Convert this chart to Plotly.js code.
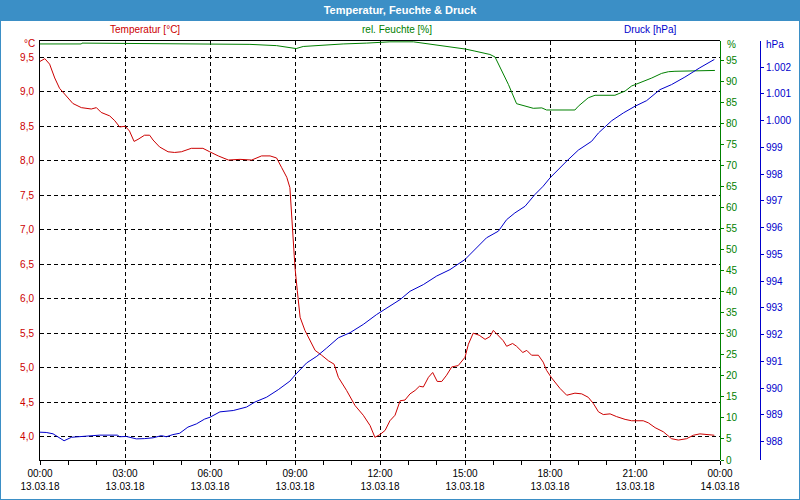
<!DOCTYPE html>
<html><head><meta charset="utf-8">
<script src="https://cdn.plot.ly/plotly-3.0.1.min.js"></script>
<style>html,body{margin:0;padding:0;background:#fff}#c{width:800px;height:500px}</style>
</head><body><div id="c"></div>
<script>
// hours after 13.03.18 00:00
const tempHours = [0,0.17,0.34,0.52,0.69,0.87,1.16,1.46,1.81,1.99,2.16,2.46,2.64,2.81,3.01,3.16,3.32,3.46,3.69,3.87,3.99,4.22,4.52,4.75,4.99,5.34,5.75,5.99,6.29,6.65,7.06,7.47,7.82,8.12,8.35,8.53,8.71,8.82,8.88,8.94,9.0,9.08,9.18,9.35,9.53,9.71,9.94,10.18,10.38,10.53,10.82,11.12,11.41,11.65,11.82,12.0,12.18,12.35,12.53,12.71,12.88,13.06,13.24,13.39,13.53,13.71,13.86,14.02,14.18,14.35,14.53,14.76,15.0,15.12,15.29,15.5,15.71,15.88,16.0,16.18,16.35,16.47,16.68,16.82,17.04,17.18,17.35,17.59,17.76,17.88,18.06,18.35,18.59,18.88,19.12,19.35,19.53,19.71,19.88,20.12,20.35,20.65,20.88,21.29,21.47,21.71,22.0,22.29,22.53,22.82,23.06,23.29,23.47,23.8];
const tempVals = [9.44,9.48,9.40,9.20,9.05,8.96,8.83,8.77,8.75,8.77,8.70,8.65,8.58,8.49,8.50,8.43,8.28,8.31,8.37,8.37,8.30,8.20,8.13,8.12,8.13,8.18,8.18,8.13,8.07,8.01,8.02,8.01,8.07,8.07,8.04,7.90,7.76,7.61,7.22,6.79,6.45,6.12,5.73,5.54,5.39,5.25,5.18,5.10,5.05,4.86,4.67,4.45,4.31,4.16,3.99,4.03,4.09,4.23,4.31,4.52,4.53,4.62,4.67,4.73,4.72,4.86,4.93,4.80,4.80,4.89,5.01,5.03,5.15,5.34,5.50,5.47,5.41,5.45,5.54,5.47,5.39,5.31,5.35,5.31,5.22,5.25,5.18,5.18,5.08,4.96,4.85,4.70,4.60,4.63,4.62,4.57,4.48,4.36,4.32,4.33,4.29,4.25,4.23,4.23,4.20,4.13,4.07,3.97,3.95,3.97,4.02,4.04,4.03,4.02];

const humHours = [0,1.46,1.48,6.0,6.1,7.41,8.35,8.82,9.04,9.29,9.88,10.7,11.53,12.35,13.18,13.76,14.35,15.0,15.35,15.88,16.06,16.29,16.53,16.82,17.18,17.41,17.71,17.88,18.88,19.0,19.35,19.59,20.29,20.65,20.88,21.35,21.59,21.94,22.18,22.41,23.23,23.82];
const humVals = [98.9,98.9,99.1,99.0,98.9,98.8,98.5,98.1,97.8,98.3,98.6,98.9,99.1,99.4,99.4,98.9,98.4,97.7,97.2,96.4,95.8,92.8,89.3,84.7,84.1,83.6,83.7,83.2,83.2,84.1,86.1,86.7,86.7,87.7,88.9,90.1,90.8,91.9,92.3,92.4,92.6,92.6];

const presHours = [0,0.22,0.46,0.64,0.85,1.11,1.58,2.11,2.73,2.81,3.05,3.4,3.69,3.99,4.28,4.46,4.69,4.93,5.22,5.52,5.81,6.0,6.35,6.82,7.29,7.59,8.0,8.41,8.82,9.04,9.41,9.77,10.12,10.53,10.94,11.41,11.88,12.0,12.35,12.71,13.06,13.53,14.0,14.47,15.0,15.41,15.76,16.18,16.47,16.76,17.12,17.47,17.76,18.0,18.35,18.59,19.0,19.47,19.71,20.18,20.59,21.0,21.41,21.88,22.29,22.76,23.29,23.8];
const presVals = [988.35,988.34,988.29,988.16,988.03,988.16,988.19,988.24,988.24,988.18,988.19,988.10,988.11,988.14,988.22,988.18,988.26,988.31,988.54,988.66,988.84,988.91,989.11,989.16,989.29,989.48,989.66,989.94,990.26,990.53,990.94,991.19,991.50,991.88,992.07,992.38,992.75,992.83,993.05,993.31,993.62,993.87,994.19,994.43,994.81,995.24,995.62,995.87,996.30,996.55,996.80,997.24,997.55,997.86,998.25,998.49,998.90,999.23,999.54,1000.00,1000.29,1000.54,1000.75,1001.16,1001.35,1001.63,1001.98,1002.29];

const titleText = 'Temperatur, Feuchte &amp; Druck';
const seriesNames = ['Temperatur [°C]', 'rel. Feuchte [%]', 'Druck [hPa]'];
const unitLabels = ['°C', '%', 'hPa'];

const BASE = Date.UTC(2018, 2, 13);
const HOUR = 3600000;
const toX = hs => hs.map(h => BASE + h * HOUR);

const RED = '#cc0000', GREEN = '#008000', BLUE = '#0000cc', BAR = '#3b8fc6';
const FONT = 'Liberation Sans, Arial, sans-serif';

const traces = [
  {x: toX(tempHours), y: tempVals, type: 'scatter', mode: 'lines', line: {color: RED, width: 1}, yaxis: 'y', name: seriesNames[0]},
  {x: toX(humHours), y: humVals, type: 'scatter', mode: 'lines', line: {color: GREEN, width: 1}, yaxis: 'y2', name: seriesNames[1]},
  {x: toX(presHours), y: presVals, type: 'scatter', mode: 'lines', line: {color: BLUE, width: 1}, yaxis: 'y3', name: seriesNames[2]}
];

const layout = {
  width: 800, height: 500,
  margin: {l: 0, r: 0, t: 0, b: 0},
  paper_bgcolor: '#ffffff', plot_bgcolor: '#ffffff',
  showlegend: false,
  separators: ',.',
  font: {family: FONT, size: 10, color: '#000'},
  title: {text: '<b>' + titleText + '</b>', x: 0.5, xanchor: 'center', y: 1 - 10/500, yanchor: 'middle', yref: 'paper',
          font: {family: FONT, size: 11, color: '#ffffff'}},
  xaxis: {
    type: 'date', domain: [40/800, 720/800], range: [BASE, BASE + 24*HOUR],
    tickmode: 'linear', tick0: BASE, dtick: 3*HOUR, tickformat: '%H:%M<br>%d.%m.%y',
    ticks: 'outside', ticklen: 4, tickcolor: '#000', tickfont: {family: FONT, size: 10, color: '#000'},
    showline: true, linecolor: '#000', linewidth: 1, mirror: true,
    showgrid: true, gridcolor: '#000', gridwidth: 1, griddash: '4px,3px',
    minor: {dtick: HOUR, tick0: BASE, ticks: 'outside', ticklen: 4, tickcolor: '#000', showgrid: false},
    zeroline: false, fixedrange: true
  },
  yaxis: {
    domain: [40/500, 459/500], range: [3.661, 9.736],
    tickmode: 'linear', tick0: 0, dtick: 0.5, tickformat: '.1f',
    ticks: '', ticklabelstandoff: 3, tickfont: {family: FONT, size: 10, color: RED},
    showline: true, linecolor: '#000', linewidth: 1,
    showgrid: true, gridcolor: '#000', gridwidth: 1, griddash: '4px,3px',
    zeroline: false, fixedrange: true
  },
  yaxis2: {
    overlaying: 'y', side: 'right', anchor: 'free', position: 720/800,
    range: [0, 99.6], tickmode: 'linear', tick0: 0, dtick: 5, tickformat: 'd',
    ticks: 'outside', ticklen: 3, tickcolor: GREEN, tickfont: {family: FONT, size: 10, color: GREEN},
    showline: true, linecolor: GREEN, linewidth: 1, showgrid: false, zeroline: false, fixedrange: true
  },
  yaxis3: {
    overlaying: 'y', side: 'right', anchor: 'free', position: 760/800,
    range: [987.31, 1002.98], tickmode: 'linear', tick0: 988, dtick: 1, tickformat: ',d',
    ticks: 'outside', ticklen: 3, tickcolor: BLUE, tickfont: {family: FONT, size: 10, color: BLUE},
    showline: true, linecolor: BLUE, linewidth: 1, showgrid: false, zeroline: false, fixedrange: true
  },
  shapes: [
    {type: 'rect', xref: 'paper', yref: 'paper', x0: 0, x1: 1, y0: 1 - 21/500, y1: 1, fillcolor: BAR, line: {width: 0}, layer: 'below'},
    {type: 'rect', xref: 'paper', yref: 'paper', x0: 0, x1: 1, y0: 0, y1: 1, line: {color: BAR, width: 2}, fillcolor: 'rgba(0,0,0,0)'}
  ],
  annotations: [
    {text: seriesNames[0], xref: 'paper', yref: 'paper', x: 145/800, y: 1 - 29/500, showarrow: false, xanchor: 'center', yanchor: 'middle', font: {family: FONT, size: 10, color: RED}},
    {text: seriesNames[1], xref: 'paper', yref: 'paper', x: 397/800, y: 1 - 29/500, showarrow: false, xanchor: 'center', yanchor: 'middle', font: {family: FONT, size: 10, color: GREEN}},
    {text: seriesNames[2], xref: 'paper', yref: 'paper', x: 650/800, y: 1 - 29/500, showarrow: false, xanchor: 'center', yanchor: 'middle', font: {family: FONT, size: 10, color: BLUE}},
    {text: unitLabels[0], xref: 'paper', yref: 'paper', x: 37/800, y: 1 - 44/500, showarrow: false, xanchor: 'right', yanchor: 'middle', font: {family: FONT, size: 10, color: RED}},
    {text: unitLabels[1], xref: 'paper', yref: 'paper', x: 725/800, y: 1 - 45/500, showarrow: false, xanchor: 'left', yanchor: 'middle', font: {family: FONT, size: 10, color: GREEN}},
    {text: unitLabels[2], xref: 'paper', yref: 'paper', x: 764/800, y: 1 - 45/500, showarrow: false, xanchor: 'left', yanchor: 'middle', font: {family: FONT, size: 10, color: BLUE}}
  ]
};

Plotly.newPlot('c', traces, layout, {staticPlot: true, displayModeBar: false});
</script>
</body></html>
